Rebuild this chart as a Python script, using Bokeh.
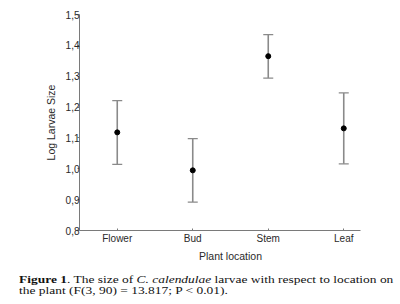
from bokeh.plotting import figure
from bokeh.models import ColumnDataSource, Whisker, TeeHead, FixedTicker, Div
from bokeh.layouts import column
from bokeh.embed import file_html
from bokeh.resources import INLINE

# ---- data ----
categories = ["Flower", "Bud", "Stem", "Leaf"]
means = [1.118, 0.995, 1.365, 1.131]
uppers = [1.221, 1.098, 1.435, 1.246]
lowers = [1.014, 0.892, 1.294, 1.016]
y_ticks = [0.8, 0.9, 1.0, 1.1, 1.2, 1.3, 1.4, 1.5]
y_tick_labels = ["0,8", "0,9", "1,0", "1,1", "1,2", "1,3", "1,4", "1,5"]

xs = list(range(len(categories)))
src = ColumnDataSource(data=dict(x=xs, mean=means, upper=uppers, lower=lowers))

AX = "#7a7a7a"
BAR = "#8a8a8a"
TXT = "#2a2a2a"
FONT = "Liberation Sans"

p = figure(width=392, height=269, output_backend="svg", toolbar_location=None,
           x_range=(-0.5, 3.5), y_range=(0.8, 1.5),
           min_border_left=79, min_border_right=11, min_border_top=14, min_border_bottom=39)
p.outline_line_color = None
p.xgrid.visible = False
p.ygrid.visible = False
p.background_fill_color = "white"
p.border_fill_color = "white"

w = Whisker(base="x", upper="upper", lower="lower", source=src,
            line_color=BAR, line_width=1.6,
            upper_head=TeeHead(size=10, line_color=BAR, line_width=1.2),
            lower_head=TeeHead(size=10, line_color=BAR, line_width=1.2))
p.add_layout(w)
p.scatter("x", "mean", source=src, size=5, color="black")

# y axis
ya = p.yaxis[0]
ya.ticker = FixedTicker(ticks=y_ticks)
ya.major_label_overrides = {t: l for t, l in zip(y_ticks, y_tick_labels)}
ya.minor_tick_line_color = None
ya.major_tick_in = 0
ya.major_tick_out = 2
ya.major_label_standoff = -2
ya.axis_line_color = AX
ya.major_tick_line_color = AX
ya.axis_label = "Log Larvae Size"
ya.axis_label_standoff = 6
ya.axis_label_text_font_style = "normal"
ya.axis_label_text_font = FONT
ya.axis_label_text_font_size = "10.5px"
ya.axis_label_text_color = TXT
ya.major_label_text_font = FONT
ya.major_label_text_font_size = "10px"
ya.major_label_text_color = TXT

# x axis
xa = p.xaxis[0]
xa.ticker = FixedTicker(ticks=xs)
xa.major_label_overrides = {i: c for i, c in zip(xs, categories)}
xa.bounds = (-0.5, 3.22)
xa.minor_tick_line_color = None
xa.major_tick_in = 2
xa.major_tick_out = 0
xa.major_label_standoff = 2
xa.axis_line_color = AX
xa.major_tick_line_color = AX
xa.axis_label = "Plant location"
xa.axis_label_standoff = 3
xa.axis_label_text_font_style = "normal"
xa.axis_label_text_font = FONT
xa.axis_label_text_font_size = "10.5px"
xa.axis_label_text_color = TXT
xa.major_label_text_font = FONT
xa.major_label_text_font_size = "10px"
xa.major_label_text_color = TXT

cap = Div(text=("<b>Figure 1</b>. The size of <i>C. calendulae</i> larvae with respect to location on<br>"
                "the plant (F(3, 90) = 13.817; P &lt; 0.01)."),
          width=320, height=30,
          styles={"font-family": "Liberation Serif", "font-size": "10.5px",
                  "line-height": "11px", "color": "#111111",
                  "transform": "scaleX(1.28)", "transform-origin": "0 0",
                  "padding-left": "11px", "padding-top": "0px", "white-space": "nowrap"})

layout = column(p, cap, spacing=0)
open("out.html", "w").write(file_html(layout, INLINE))
